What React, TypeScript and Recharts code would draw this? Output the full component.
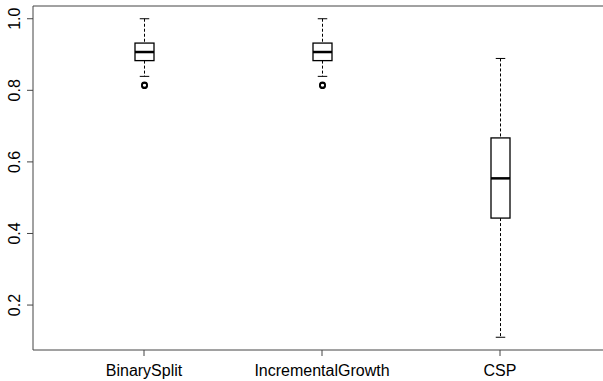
import React from 'react';
import { Bar, ComposedChart, ReferenceLine, XAxis, YAxis } from 'recharts';

const categories = ['BinarySplit', 'IncrementalGrowth', 'CSP'];
const whiskerLow = [0.839, 0.839, 0.11];
const lowerQuartile = [0.883, 0.883, 0.443];
const medians = [0.907, 0.907, 0.554];
const upperQuartile = [0.932, 0.932, 0.667];
const whiskerHigh = [1.0, 1.0, 0.889];
const outliers = [[0.813, 0.815], [0.813, 0.815], []];
const yTicks = [0.2, 0.4, 0.6, 0.8, 1.0];

const Y_MIN = 0.0744;
const Y_MAX = 1.0356;
const FONT = '"Liberation Sans", Arial, Helvetica, sans-serif';
const FRAME = '#444';

const data = categories.map((name, i) => ({
  name,
  min: whiskerLow[i],
  q1: lowerQuartile[i],
  median: medians[i],
  q3: upperQuartile[i],
  max: whiskerHigh[i],
  outliers: outliers[i],
}));

function BoxShape(props: any) {
  const { x, y, width, height, payload } = props;
  const { min, q1, median, q3, max } = payload;
  // bar spans [min, max], so the y scale is linear inside it
  const toY = (v: number) => y + ((max - v) / (max - min)) * height;
  const cx = x + width / 2;
  const half = width / 2;
  const cap = width / 4;
  return (
    <g>
      <line x1={cx} x2={cx} y1={toY(max)} y2={toY(q3)} stroke="#000" strokeDasharray="3 2" />
      <line x1={cx} x2={cx} y1={toY(q1)} y2={toY(min)} stroke="#000" strokeDasharray="3 2" />
      <line x1={cx - cap} x2={cx + cap} y1={toY(max)} y2={toY(max)} stroke="#000" />
      <line x1={cx - cap} x2={cx + cap} y1={toY(min)} y2={toY(min)} stroke="#000" />
      <rect x={cx - half} y={toY(q3)} width={width} height={toY(q1) - toY(q3)} fill="#fff" stroke="#000" strokeWidth={1.3} />
      <line x1={cx - half} x2={cx + half} y1={toY(median)} y2={toY(median)} stroke="#000" strokeWidth={2.5} />
      {payload.outliers.map((v: number, k: number) => (
        <circle key={k} cx={cx} cy={toY(v)} r={2.6} fill="none" stroke="#000" strokeWidth={1.6} />
      ))}
    </g>
  );
}

function XTick(props: any) {
  const { x, y, payload } = props;
  return (
    <text x={x} y={y + 18} textAnchor="middle" fontSize={16} fontFamily={FONT} fill="#000">
      {payload.value}
    </text>
  );
}

function YTick(props: any) {
  const { x, y, payload } = props;
  const tx = x - 5;
  return (
    <text x={tx} y={y} transform={`rotate(-90, ${tx}, ${y})`} textAnchor="middle" fontSize={16} fontFamily={FONT} fill="#000">
      {payload.value.toFixed(1)}
    </text>
  );
}

export default function App() {
  return (
    <div style={{ position: 'absolute', left: 0, top: 0, width: 603, height: 381, overflow: 'hidden', background: '#fff' }}>
      <ComposedChart width={610} height={381} data={data} margin={{ top: 6, right: 0, bottom: 0, left: 0 }}>
        <XAxis
          dataKey="name"
          type="category"
          padding={{ left: 22, right: 21 }}
          height={31}
          stroke={FRAME}
          tickSize={6}
          tick={<XTick />}
          interval={0}
        />
        <YAxis
          type="number"
          domain={[Y_MIN, Y_MAX]}
          ticks={yTicks}
          allowDataOverflow
          width={33}
          stroke={FRAME}
          tickSize={6}
          tick={<YTick />}
        />
        <ReferenceLine y={Y_MAX} stroke={FRAME} />
        <Bar dataKey={(d: any) => [d.min, d.max]} barSize={19} shape={<BoxShape />} isAnimationActive={false} />
      </ComposedChart>
    </div>
  );
}
